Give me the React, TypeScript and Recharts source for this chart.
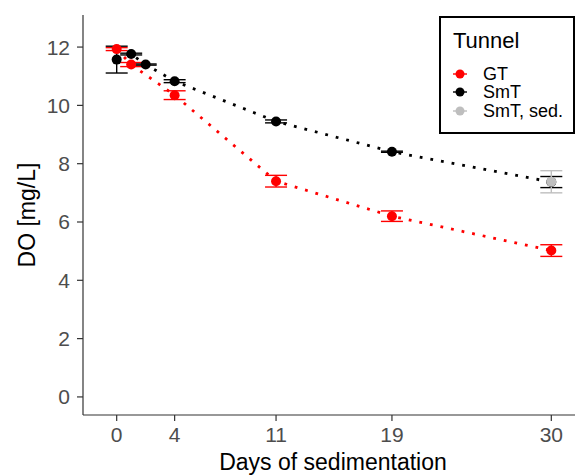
import React from 'react'
import { ComposedChart, Line, Scatter, XAxis, YAxis, ErrorBar } from 'recharts'

// days after start, mean DO and sd
const gtDays = [0, 1, 4, 11, 19, 30]
const gtDO = [11.93, 11.4, 10.35, 7.4, 6.2, 5.02]
const gtSD = [0.05, 0.07, 0.15, 0.2, 0.18, 0.2]

const smtDays = [0, 1, 2, 4, 11, 19, 30]
const smtDO = [11.57, 11.76, 11.4, 10.83, 9.45, 8.41, 7.37]
const smtSD = [0.46, 0.03, 0.02, 0.05, 0.05, 0.02, 0.19]

const sedDays = [30]
const sedDO = [7.38]
const sedSD = [0.38]

const xTicks = [0, 4, 11, 19, 30]
const yTicks = [0, 2, 4, 6, 8, 10, 12]

const legendItems = [
  { label: 'GT', color: '#ff0000' },
  { label: 'SmT', color: '#000000' },
  { label: 'SmT, sed.', color: '#bebebe' },
]

const toRows = (xs: number[], ys: number[], sds: number[]) =>
  xs.map((x, i) => ({ x, y: ys[i], sd: sds[i] }))

const gtData = toRows(gtDays, gtDO, gtSD)
const smtData = toRows(smtDays, smtDO, smtSD)
const sedData = toRows(sedDays, sedDO, sedSD)

const noShape = () => <g />
const dot = (color: string) => (props: any) =>
  <circle cx={props.cx} cy={props.cy} r={5} fill={color} />

const axisColor = '#333333'
const tickStyle = { fontSize: 21, fill: '#4d4d4d' }

export default function App() {
  return (
    <div
      style={{
        position: 'absolute',
        left: 0,
        top: 0,
        width: 575,
        height: 475,
        overflow: 'hidden',
        background: '#fff',
        fontFamily: '"Liberation Sans", Arial, sans-serif',
      }}
    >
      <ComposedChart width={590} height={475} margin={{ top: 15, right: 5, bottom: 0, left: 0 }}>
        <XAxis
          dataKey="x"
          type="number"
          domain={[-2.325, 32.325]}
          ticks={xTicks}
          allowDataOverflow
          height={60}
          tick={tickStyle}
          tickSize={6}
          tickMargin={6}
          axisLine={{ stroke: axisColor, strokeWidth: 1.2 }}
          tickLine={{ stroke: axisColor, strokeWidth: 1.2 }}
        />
        <XAxis
          xAxisId="top"
          orientation="top"
          dataKey="x"
          type="number"
          domain={[-2.325, 32.325]}
          height={0}
          tick={false}
          tickLine={false}
          axisLine={{ stroke: axisColor, strokeWidth: 1.2 }}
        />
        <YAxis
          type="number"
          domain={[-0.62, 13.1]}
          ticks={yTicks}
          allowDataOverflow
          width={83}
          tick={tickStyle}
          tickSize={6}
          tickMargin={7}
          axisLine={{ stroke: axisColor, strokeWidth: 1.2 }}
          tickLine={{ stroke: axisColor, strokeWidth: 1.2 }}
        />

        <Line data={gtData} dataKey="y" type="linear" stroke="#ff0000" strokeWidth={2.8}
          strokeDasharray="2.8 8" dot={false} activeDot={false} isAnimationActive={false} />
        <Line data={smtData} dataKey="y" type="linear" stroke="#000000" strokeWidth={2.8}
          strokeDasharray="2.8 8" dot={false} activeDot={false} isAnimationActive={false} />

        <Scatter data={gtData} dataKey="y" shape={noShape} isAnimationActive={false}>
          <ErrorBar dataKey="sd" direction="y" width={11} stroke="#ff0000" strokeWidth={1.4} isAnimationActive={false} />
        </Scatter>
        <Scatter data={smtData} dataKey="y" shape={noShape} isAnimationActive={false}>
          <ErrorBar dataKey="sd" direction="y" width={11} stroke="#000000" strokeWidth={1.4} isAnimationActive={false} />
        </Scatter>
        <Scatter data={sedData} dataKey="y" shape={noShape} isAnimationActive={false}>
          <ErrorBar dataKey="sd" direction="y" width={11} stroke="#bebebe" strokeWidth={1.4} isAnimationActive={false} />
        </Scatter>

        <Scatter data={gtData} dataKey="y" shape={dot('#ff0000')} isAnimationActive={false} />
        <Scatter data={smtData} dataKey="y" shape={dot('#000000')} isAnimationActive={false} />
        <Scatter data={sedData} dataKey="y" shape={dot('#bebebe')} isAnimationActive={false} />
      </ComposedChart>

      <div
        style={{
          position: 'absolute',
          left: 0,
          top: 215,
          width: 54,
          height: 0,
          display: 'flex',
          justifyContent: 'center',
        }}
      >
        <div style={{ transform: 'rotate(-90deg)', whiteSpace: 'nowrap', fontSize: 23, lineHeight: '0px' }}>
          DO [mg/L]
        </div>
      </div>
      <div
        style={{
          position: 'absolute',
          left: 83,
          width: 500,
          top: 450,
          textAlign: 'center',
          fontSize: 23,
          lineHeight: '25px',
        }}
      >
        Days of sedimentation
      </div>

      <div
        style={{
          position: 'absolute',
          left: 439,
          top: 16,
          width: 136,
          height: 118,
          boxSizing: 'border-box',
          border: '2px solid #000',
          background: '#fff',
        }}
      >
        <div style={{ position: 'absolute', left: 12, top: 11, fontSize: 22, lineHeight: '24px' }}>Tunnel</div>
        {legendItems.map((item, i) => (
          <div key={item.label} style={{ position: 'absolute', left: 10, top: 47 + i * 18.3, height: 18, display: 'flex', alignItems: 'center' }}>
            <svg width={18} height={18}>
              <line x1={2} x2={16} y1={9} y2={9} stroke={item.color} strokeWidth={1.4} />
              <circle cx={9} cy={9} r={4.5} fill={item.color} />
            </svg>
            <span style={{ marginLeft: 14, fontSize: 18, lineHeight: '18px', whiteSpace: 'nowrap' }}>{item.label}</span>
          </div>
        ))}
      </div>
    </div>
  )
}
